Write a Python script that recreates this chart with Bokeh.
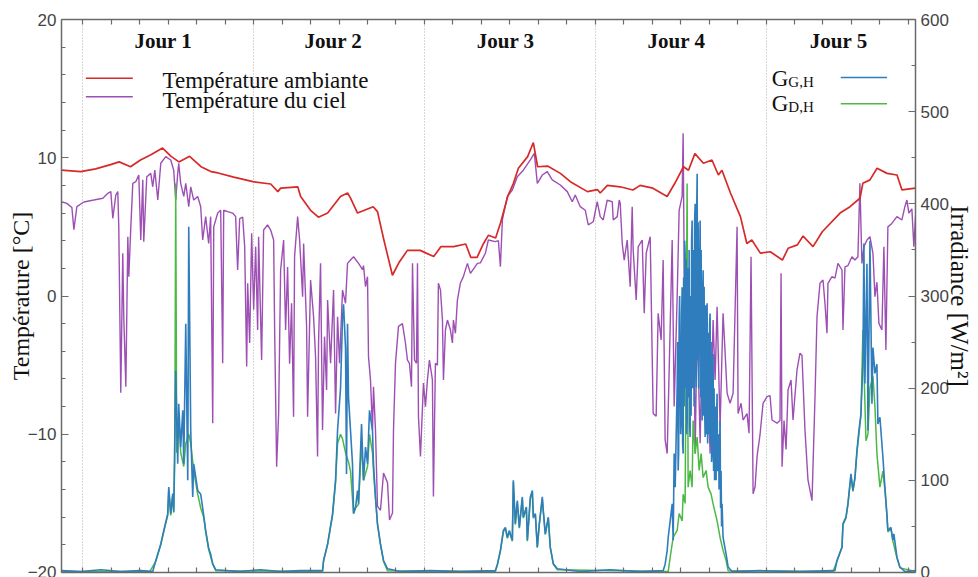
from bokeh.plotting import figure
from bokeh.models import Range1d, LinearAxis, SingleIntervalTicker, FixedTicker, Grid, CustomJSTickFormatter
from bokeh.embed import file_html
from bokeh.resources import INLINE
from bokeh.core.properties import value

# ---- data (time in hours from start of "Jour 1") ----
ambient = [(-3.0, 9.1), (-0.3, 9.0), (1.8, 9.2), (3.9, 9.5), (5.1, 9.7), (6.7, 9.35), (8.1, 9.84), (9.5, 10.2),
           (11.2, 10.7), (12.4, 10.1), (13.5, 9.7), (15.0, 10.1), (16.6, 9.35), (18.0, 9.0), (19.0, 8.9), (21.2, 8.6),
           (23.9, 8.27), (26.4, 8.1), (27.4, 7.55), (27.8, 7.8), (30.2, 7.9), (30.6, 7.2), (32.0, 6.2), (33.1, 5.7),
           (34.4, 6.0), (36.2, 7.2), (37.2, 7.45), (37.6, 7.1), (38.6, 6.0), (40.8, 6.46), (41.4, 6.1), (42.3, 4.05),
           (43.5, 1.5), (44.4, 2.4), (45.6, 3.3), (47.4, 3.3), (49.3, 2.85), (50.3, 3.57), (52.1, 3.57), (53.8, 3.76),
           (54.5, 2.8), (55.4, 2.8), (56.3, 3.8), (57.0, 4.4), (58.0, 4.2), (58.7, 5.3), (59.7, 7.2), (60.5, 8.15),
           (61.2, 9.24), (62.5, 10.08), (63.3, 11.1), (63.9, 9.35), (65.3, 9.4), (67.1, 8.87), (68.5, 8.27), (70.9, 7.55),
           (72.3, 7.7), (72.7, 7.45), (73.7, 8.0), (75.5, 7.9), (77.3, 7.67), (78.3, 8.0), (80.1, 7.8), (82.1, 7.2),
           (83.2, 8.17), (84.4, 9.35), (85.1, 9.1), (86.0, 10.3), (87.2, 9.6), (88.4, 9.84), (89.3, 8.75), (89.8, 9.1),
           (91.0, 7.45), (92.4, 5.74), (93.3, 3.8), (94.0, 4.05), (95.2, 3.1), (96.6, 3.2), (98.3, 2.6), (99.1, 3.45),
           (100.4, 3.7), (101.2, 4.34), (102.6, 3.57), (103.9, 4.65), (106.4, 6.0), (107.8, 6.46), (109.2, 7.07),
           (109.6, 8.15), (110.6, 8.4), (111.6, 9.24), (113.0, 8.87), (114.4, 8.75), (115.1, 7.67), (117.0, 7.8)]

sky = [(-3.0, 6.82), (-2.25, 6.7), (-1.54, 6.4), (-1.26, 4.8), (-0.84, 6.46), (0.14, 6.8), (1.54, 6.94), (2.81, 7.07),
       (3.51, 7.43), (3.93, 7.55), (4.21, 5.62), (4.63, 7.3), (4.91, 7.55), (5.05, 5.0), (5.33, -7.0), (5.61, 3.1),
       (5.75, -1.5), (6.04, -6.56), (6.32, 4.29), (6.46, 1.4), (6.74, 5.0), (7.02, 8.15), (7.44, 8.27), (7.86, 8.75),
       (8.14, 4.05), (8.42, 8.4), (8.56, 3.93), (8.98, 8.63), (9.54, 8.87), (9.82, 7.9), (10.11, 9.1), (10.53, 6.94),
       (10.95, 9.6), (11.65, 10.08), (12.35, 9.84), (12.77, 9.1), (13.05, 6.94), (13.33, 8.87), (13.47, 9.6),
       (13.75, 8.15), (14.18, 7.2), (14.46, 8.15), (14.88, 6.46), (15.16, 7.9), (15.58, 6.94), (16.14, 7.2),
       (16.56, 6.46), (16.84, 4.05), (17.26, 5.74), (17.68, 3.8), (17.96, 5.74), (18.25, -9.2), (18.39, 5.0),
       (18.95, 6.0), (19.37, 6.2), (19.65, -4.86), (19.79, 6.2), (20.35, 6.1), (21.05, 6.0), (21.47, 5.74),
       (21.75, 1.88), (22.04, 5.6), (22.46, 5.7), (22.74, 3.57), (23.02, -5.1), (23.16, 0.92), (23.44, -3.4),
       (23.72, 4.54), (24.0, -1.0), (24.28, 3.57), (24.56, -2.46), (24.7, 4.29), (25.12, -4.63), (25.4, 4.77),
       (25.96, 5.14), (26.39, 4.77), (26.81, 4.05), (26.95, -2.46), (27.23, -12.35), (27.51, -8.5), (27.79, 1.88),
       (28.21, 4.05), (28.49, -2.46), (28.77, 2.1), (29.05, -4.9), (29.33, -0.53), (29.61, -8.73), (29.75, 2.84),
       (30.18, 5.74), (30.46, 4.05), (30.88, -0.05), (31.02, 3.8), (31.44, -2.2), (31.58, -8.73), (32.0, 1.16),
       (32.42, -1.5), (32.7, -4.4), (32.98, -11.6), (33.12, -3.4), (33.4, 2.36), (33.68, -9.7), (33.96, -2.94),
       (34.25, -6.8), (34.39, -0.29), (34.81, -4.87), (35.23, 0.43), (35.51, -8.5), (35.79, -1.5), (36.07, -4.87),
       (36.49, 0.43), (36.91, -0.53), (37.19, 2.36), (37.61, 2.6), (38.04, 2.84), (38.74, 2.36), (39.3, 1.9),
       (39.44, 2.2), (39.72, 0.67), (40.0, 1.4), (40.14, -4.4), (40.42, -6.07), (40.7, -9.7), (40.84, -6.56),
       (41.12, -9.7), (41.4, -15.2), (41.82, -15.5), (42.25, -12.8), (42.81, -13.5), (43.09, -16.2), (43.51, -15.7),
       (43.65, -9.7), (43.93, -4.87), (44.35, -2.2), (44.91, -2.0), (45.33, -3.4), (45.61, -4.63), (45.89, -4.87),
       (46.18, -6.56), (46.32, 2.36), (46.6, -4.63), (46.88, -4.87), (47.02, 2.36), (47.16, -8.73), (47.44, -11.6),
       (47.86, -6.3), (48.14, -8.0), (48.42, -6.07), (48.7, -4.63), (49.12, -6.07), (49.26, -14.5), (49.54, -4.87),
       (49.82, -5.0), (49.96, 0.92), (50.25, 0.43), (50.53, -1.74), (50.67, -6.07), (50.95, -2.46), (51.23, -1.74),
       (51.65, -2.46), (51.93, -3.4), (52.07, -1.74), (52.35, -2.7), (52.63, -0.29), (53.05, 0.94), (53.47, 1.4),
       (54.04, 2.36), (54.46, 1.64), (55.44, 2.36), (55.86, 2.4), (56.56, 3.09), (56.98, 4.05), (57.96, 3.93),
       (58.39, 4.0), (58.67, 2.12), (58.95, 5.5), (59.65, 7.2), (60.35, 7.67), (61.05, 8.63), (61.89, 9.1),
       (62.88, 9.84), (63.44, 10.32), (63.86, 8.15), (64.56, 8.75), (65.26, 9.0), (65.96, 8.4), (67.09, 8.03),
       (68.07, 7.55), (68.77, 6.82), (69.19, 7.3), (69.89, 6.46), (70.6, 6.2), (71.02, 5.14), (71.72, 5.37),
       (72.28, 6.82), (72.7, 5.74), (73.12, 5.5), (73.68, 6.94), (74.39, 6.82), (74.53, 5.5), (75.09, 5.74),
       (75.37, 6.94), (75.51, 6.7), (75.79, 3.8), (76.07, 2.6), (76.49, 4.05), (76.91, 0.67), (77.19, 6.46),
       (77.33, 3.33), (77.75, -0.29), (78.04, 3.57), (78.6, 4.05), (78.88, -1.25), (79.16, 3.09), (79.72, 4.29),
       (80.14, -8.5), (80.56, -8.7), (80.84, -1.25), (81.26, -3.18), (81.54, 2.6), (81.82, -10.4), (82.11, -11.4),
       (82.53, -2.2), (82.81, 4.05), (83.09, -8.0), (83.51, -0.05), (83.79, 6.2), (84.21, 7.2), (84.35, 11.77),
       (84.63, -6.56), (84.91, 2.6), (85.33, -7.28), (85.75, 3.1), (86.04, -11.4), (86.32, -1.74), (86.74, -10.65),
       (87.16, 0.67), (87.44, -7.04), (87.72, -4.14), (88.14, -11.4), (88.56, -1.74), (88.84, -6.07), (89.12, -0.77),
       (89.54, -9.45), (89.96, -1.25), (90.25, -4.14), (90.53, -7.04), (90.95, -7.76), (91.37, -7.04), (91.93, 5.0),
       (92.07, -8.5), (92.49, -7.76), (92.77, -8.97), (93.33, -8.5), (93.61, -9.93), (93.89, 2.84), (94.18, -14.3),
       (94.46, -13.8), (94.74, -11.6), (95.16, -10.0), (95.58, -7.76), (96.14, -7.28), (96.56, -7.2), (96.84, -8.97),
       (97.54, -9.2), (97.96, -9.0), (98.11, 1.64), (98.25, -12.35), (98.53, -9.0), (98.81, -11.1), (99.09, -6.8),
       (99.51, -6.07), (99.79, -8.97), (100.35, -5.35), (100.77, -4.14), (101.05, -4.3), (101.47, -9.7),
       (101.89, -13.3), (102.46, -14.8), (102.88, -7.28), (103.16, -1.5), (103.58, 0.92), (104.0, 1.16),
       (104.28, -0.53), (104.56, -2.7), (104.7, 0.92), (105.26, 1.4), (105.68, 1.3), (106.11, 2.36), (106.67, 1.88),
       (106.81, -2.46), (107.09, 2.1), (107.51, 2.2), (108.07, 2.84), (108.49, 2.6), (108.91, 2.84), (109.19, 8.15),
       (109.47, 2.36), (109.75, 3.57), (110.18, 4.05), (110.6, 4.29), (111.02, 3.09), (111.3, -0.05), (111.58, 1.0),
       (111.86, -1.98), (112.28, -2.46), (112.56, 3.57), (112.84, -3.9), (113.12, 5.0), (113.68, 5.25),
       (114.39, 5.74), (115.09, 5.5), (115.51, 6.46), (115.79, 6.94), (116.07, 6.0), (116.49, 6.3), (116.77, 3.57),
       (117.0, 5.74)]

global_h = [(-3.0, 2), (-0.28, 1), (2.53, 3), (5.33, 1), (8.14, 2), (9.82, 1), (10.25, 13), (10.95, 31), (11.37, 45.6),
            (11.93, 63.7), (12.07, 92.6), (12.35, 63.7), (12.63, 85.7), (12.77, 66), (13.05, 219), (13.33, 118),
            (13.47, 183), (13.75, 136), (14.04, 176), (14.18, 118), (14.46, 270), (14.74, 100), (14.88, 375),
            (15.16, 154), (15.44, 82), (15.58, 118), (16.14, 89), (16.56, 85), (16.98, 62), (17.26, 45.6), (17.68, 26),
            (17.96, 20), (18.25, 9.4), (18.67, 3), (22.18, 1), (24.98, 3), (27.79, 1), (30.6, 2), (33.68, 2),
            (33.82, 13), (34.39, 31), (35.09, 64), (35.51, 100), (35.79, 154), (36.21, 200), (36.49, 277), (36.63, 291),
            (36.91, 244), (37.05, 107), (37.19, 270), (37.33, 190), (37.61, 154), (37.89, 118), (38.04, 64),
            (38.32, 71), (38.6, 89), (38.74, 74.6), (39.16, 161), (39.44, 100), (39.72, 136), (40.0, 118), (40.28, 176),
            (40.7, 154), (40.84, 118), (41.12, 82), (41.4, 53), (41.82, 31), (42.25, 13), (42.81, 4), (44.63, 1),
            (48.84, 2), (53.05, 1), (57.96, 2), (58.25, 9), (58.67, 24), (59.09, 45.6), (59.37, 49), (59.65, 38),
            (59.93, 45.6), (60.35, 35), (60.49, 100), (60.77, 53), (61.05, 78), (61.33, 49), (61.75, 82), (61.89, 60),
            (62.32, 71), (62.46, 35), (62.88, 82), (63.16, 89), (63.3, 60), (63.58, 64), (63.86, 27.5), (64.14, 53),
            (64.56, 82), (64.7, 67), (64.98, 42), (65.4, 60), (65.68, 27.5), (66.11, 9.4), (66.67, 4), (69.89, 1),
            (74.11, 3), (78.32, 1),
            (81.54, 2), (81.82, 9), (82.11, 24), (82.25, 38), (82.53, 56), (82.81, 74.5), (82.95, 35), (83.09, 129),
            (83.23, 92.6), (83.51, 201), (83.58, 250), (83.65, 110.7), (83.72, 130), (83.79, 273), (83.86, 300),
            (84.0, 150), (84.07, 165), (84.14, 280), (84.21, 309.5), (84.28, 140), (84.35, 129), (84.42, 320),
            (84.49, 180), (84.56, 360), (84.63, 346), (84.7, 200), (84.77, 340), (84.84, 150), (84.91, 165),
            (84.98, 330), (85.05, 309.5), (85.12, 190), (85.19, 350), (85.26, 160), (85.33, 147), (85.4, 300),
            (85.47, 170), (85.54, 360), (85.61, 382), (85.68, 200), (85.75, 237), (85.82, 350), (85.89, 180),
            (85.96, 380), (86.04, 400), (86.11, 220), (86.18, 201), (86.25, 390), (86.32, 432.6), (86.39, 230),
            (86.46, 380), (86.53, 200), (86.6, 273), (86.67, 330), (86.74, 382), (86.81, 190), (86.88, 350),
            (86.95, 200), (87.02, 165), (87.09, 300), (87.16, 328), (87.23, 170), (87.3, 310), (87.37, 180),
            (87.44, 147), (87.51, 290), (87.58, 150), (87.65, 270), (87.72, 292), (87.79, 140), (87.86, 165),
            (87.93, 260), (88.0, 150), (88.07, 270), (88.14, 281), (88.21, 140), (88.28, 250), (88.35, 120),
            (88.42, 129), (88.49, 210), (88.56, 237), (88.63, 110), (88.7, 200), (88.77, 100), (88.84, 110.7),
            (88.91, 180), (88.98, 100), (89.05, 170), (89.12, 194), (89.19, 110), (89.26, 129), (89.33, 150),
            (89.4, 90), (89.47, 140), (89.54, 165), (89.61, 70), (89.68, 110), (89.75, 50), (89.82, 74.5),
            (89.96, 38), (90.39, 20), (90.67, 6), (91.23, 1),
            (95.16, 2), (100.77, 1), (105.4, 2), (105.68, 2), (105.96, 13), (106.67, 27.5),
            (106.81, 53), (107.23, 60), (107.51, 75), (107.93, 107), (108.21, 89), (108.49, 103), (108.77, 132),
            (109.05, 154), (109.33, 172), (109.61, 226), (109.75, 357), (109.89, 205), (110.18, 335), (110.32, 154),
            (110.6, 360), (110.88, 183), (111.02, 244), (111.3, 216), (111.58, 226), (111.72, 161), (112.0, 168.5),
            (112.42, 125), (112.7, 92.6), (112.98, 63.7), (113.12, 45.6), (113.54, 49), (113.82, 35), (113.96, 42),
            (114.39, 16.6), (114.81, 6), (115.51, 1), (117.0, 2)]

diffuse_h = [(-3.0, 1), (9.4, 1), (10.25, 12), (10.95, 30), (11.37, 44), (11.93, 62), (12.07, 90), (12.35, 62),
             (12.63, 84), (12.77, 65), (12.91, 120), (13.05, 422), (13.19, 130), (13.47, 170), (13.75, 130),
             (14.18, 115), (14.46, 140), (14.88, 150), (15.16, 140), (15.58, 110), (16.14, 85), (16.56, 70),
             (16.98, 60), (17.26, 44), (17.68, 25), (18.25, 9), (18.67, 2), (33.68, 1), (33.82, 12), (34.39, 30),
             (35.09, 62), (35.51, 98), (35.79, 140), (36.21, 150), (36.49, 145), (36.91, 130), (37.33, 120),
             (37.61, 110), (38.04, 64), (38.32, 70), (38.74, 74), (39.16, 140), (39.44, 100), (40.0, 115),
             (40.28, 150), (40.7, 130), (40.84, 110), (41.12, 80), (41.4, 52), (41.82, 30), (42.25, 12), (42.81, 2),
             (57.96, 1), (58.25, 8), (58.67, 23), (59.09, 44), (59.37, 48), (59.65, 37), (59.93, 44), (60.35, 34),
             (60.49, 98), (60.77, 52), (61.05, 76), (61.33, 48), (61.75, 80), (61.89, 59), (62.32, 70), (62.46, 34),
             (62.88, 80), (63.16, 87), (63.3, 59), (63.58, 63), (63.86, 27), (64.14, 52), (64.56, 80), (64.7, 66),
             (64.98, 41), (65.4, 59), (65.68, 27), (66.11, 9), (66.67, 3), (82.25, 1), (82.53, 16.6), (82.95, 38),
             (83.51, 45.6), (83.79, 64), (84.21, 56), (84.35, 85), (84.63, 75), (84.91, 422), (85.05, 92.6),
             (85.33, 110.7), (85.61, 92.6), (85.75, 165), (86.04, 129), (86.32, 147), (86.6, 110.7), (86.88, 129),
             (87.16, 103), (87.58, 110.7), (87.86, 92.6), (88.28, 85), (88.56, 74.5), (89.12, 56), (89.54, 38),
             (89.96, 24), (90.39, 13), (90.67, 2), (105.4, 1), (105.96, 12), (106.67, 27), (106.81, 52), (107.23, 59),
             (107.51, 74), (107.93, 105), (108.21, 88), (108.49, 102), (108.77, 130), (109.05, 150), (109.33, 170),
             (109.61, 263), (110.04, 143), (110.32, 150), (110.6, 200), (111.02, 213), (111.3, 180), (111.58, 129),
             (112.0, 92.6), (112.42, 110), (112.7, 90), (112.98, 62), (113.12, 44), (113.54, 48), (113.82, 34),
             (114.39, 16), (114.81, 5), (117.0, 1)]

day_labels = ["Jour 1", "Jour 2", "Jour 3", "Jour 4", "Jour 5"]
day_label_pos = [11.3, 35.2, 59.4, 83.4, 106.2]
day_starts = [0, 24, 48, 72, 96]

t_amb, temp_amb = zip(*ambient)
t_sky, temp_sky = zip(*sky)
t_gg, g_gg = zip(*global_h)
t_gd, g_gd = zip(*diffuse_h)

RED = "#d62a28"
PURPLE = "#9d4fb4"
BLUE = "#2f7dbd"
GREEN = "#4cb944"
AX = "#6a6a6a"
SERIF = "Liberation Serif"

p = figure(width=978, height=577, output_backend="svg", toolbar_location=None,
           x_range=Range1d(-3, 117), y_range=Range1d(-20, 20),
           x_axis_location=None, y_axis_location=None,
           min_border_left=61, min_border_right=63, min_border_top=19, min_border_bottom=5)
p.extra_y_ranges = {"irr": Range1d(0, 600)}
p.outline_line_color = None
for g in p.grid:
    g.visible = False

vgrid = Grid(dimension=0, ticker=FixedTicker(ticks=day_starts), grid_line_color="#b0b0b0",
             grid_line_dash="1 2", grid_line_width=1)
p.add_layout(vgrid)


def style(ax):
    ax.axis_line_color = AX
    ax.axis_line_width = 1.5
    ax.major_tick_line_color = AX
    ax.minor_tick_line_color = AX
    ax.major_tick_line_width = 1.2
    ax.minor_tick_line_width = 1.0
    ax.major_tick_in = 7
    ax.major_tick_out = 0
    ax.minor_tick_in = 4
    ax.minor_tick_out = 0
    ax.major_label_text_font = "Liberation Sans"
    ax.major_label_text_font_size = "17px"
    ax.major_label_text_color = "#444444"
    ax.major_label_standoff = 5
    ax.axis_label_text_font = SERIF
    ax.axis_label_text_font_size = "24px"
    ax.axis_label_text_font_style = "normal"
    ax.axis_label_text_color = "#111111"


left = LinearAxis(ticker=SingleIntervalTicker(interval=10, num_minor_ticks=5),
                  axis_label="Température [°C]",
                  major_label_overrides={-20: "−20", -10: "−10"})
style(left)
left.axis_label_standoff = -9
p.add_layout(left, "left")

right = LinearAxis(y_range_name="irr", ticker=SingleIntervalTicker(interval=100, num_minor_ticks=2),
                   axis_label="Irradiance [W/m²]")
style(right)
right.axis_label_text_font_size = "25px"
right.axis_label_standoff = -6
p.add_layout(right, "right")

for side in ("above", "below"):
    ax = LinearAxis(ticker=SingleIntervalTicker(interval=4, num_minor_ticks=0),
                    formatter=CustomJSTickFormatter(code="return ''"))
    style(ax)
    ax.major_tick_in = 5
    ax.major_label_standoff = 0
    ax.major_label_text_font_size = "1px"
    p.add_layout(ax, side)

# series
p.line(t_sky, temp_sky, line_color=PURPLE, line_width=1.4)
p.line(t_amb, temp_amb, line_color=RED, line_width=1.7)
p.line(t_gd, g_gd, line_color=GREEN, line_width=1.5, y_range_name="irr")
p.line(t_gg, g_gg, line_color=BLUE, line_width=1.6, y_range_name="irr")

# day labels
p.text(x=day_label_pos, y=[18.45] * 5, text=day_labels, text_font=value(SERIF), text_font_size="21px",
       text_font_style="bold", text_align="center", text_baseline="alphabetic", text_color="#111111")

# left legend
p.segment(x0=[0.42, 0.42], y0=[15.75, 14.42], x1=[7.02, 7.02], y1=[15.75, 14.42],
          line_color=[RED, PURPLE], line_width=1.5)
p.text(x=[11.19, 11.19], y=[15.62, 14.17], text=["Température ambiante", "Température du ciel"],
       text_font=value(SERIF), text_font_size="23px", text_baseline="alphabetic", text_color="#111111")

# right legend
p.text(x=[96.8, 96.8], y=[15.76, 13.95], text=["G", "G"], text_font=value(SERIF), text_font_size="23px",
       text_baseline="alphabetic", text_color="#111111")
p.text(x=[99.13, 99.13], y=[15.47, 13.66], text=["G,H", "D,H"], text_font=value(SERIF), text_font_size="15px",
       text_baseline="alphabetic", text_color="#111111")
p.segment(x0=[106.5, 106.5], y0=[15.8, 13.9], x1=[113.0, 113.0], y1=[15.8, 13.9],
          line_color=[BLUE, GREEN], line_width=1.5)

open("out.html", "w").write(file_html(p, INLINE))
